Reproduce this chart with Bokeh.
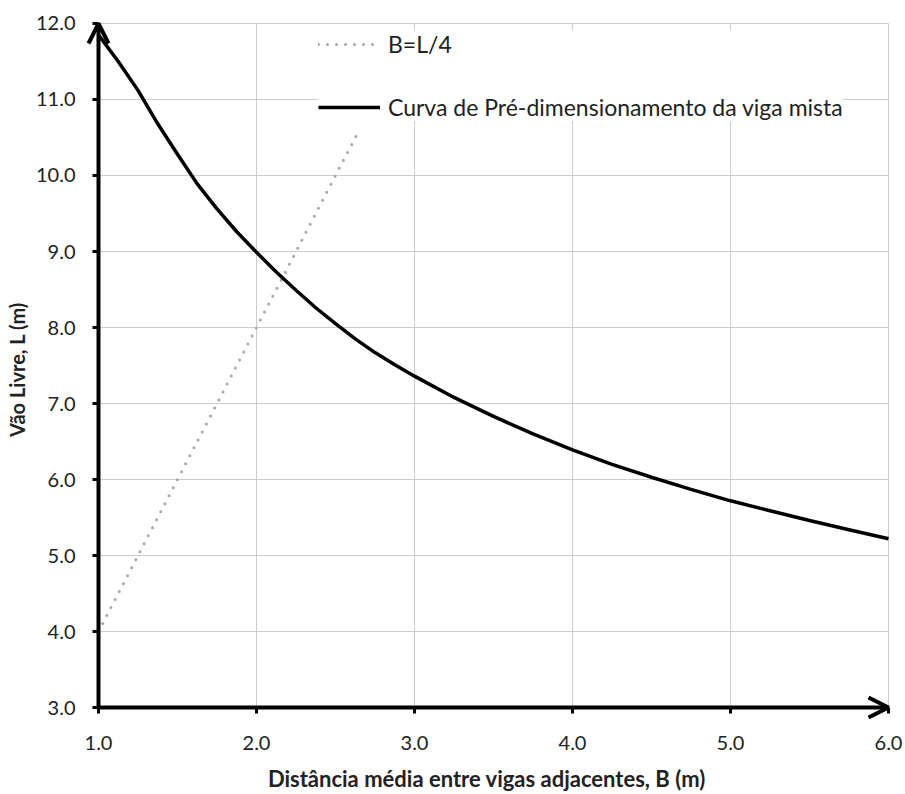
from bokeh.plotting import figure
from bokeh.models import (Arrow, OpenHead, Range1d, Legend, LegendItem,
                          FixedTicker, NumeralTickFormatter)
from bokeh.embed import file_html
from bokeh.resources import INLINE

# Data
B_curve = [1.0, 1.125, 1.25, 1.375, 1.5, 1.625, 1.75, 1.875, 2.0, 2.125, 2.25, 2.375,
           2.5, 2.625, 2.75, 2.875, 3.0, 3.25, 3.5, 3.75, 4.0, 4.25, 4.5, 4.75,
           5.0, 5.25, 5.5, 5.75, 6.0]
L_curve = [11.85, 11.5, 11.12, 10.68, 10.28, 9.89, 9.56, 9.26, 8.99, 8.73, 8.49, 8.26,
           8.05, 7.85, 7.67, 7.51, 7.36, 7.08, 6.83, 6.60, 6.39, 6.20, 6.03, 5.87,
           5.72, 5.59, 5.46, 5.34, 5.22]

B_line = [1.0, 2.64]
L_line = [4.0, 10.56]

x_ticks = [1.0, 2.0, 3.0, 4.0, 5.0, 6.0]
y_ticks = [3.0, 4.0, 5.0, 6.0, 7.0, 8.0, 9.0, 10.0, 11.0, 12.0]

X_MIN, X_MAX = 1.0, 6.0
Y_MIN, Y_MAX = 3.0, 12.0

FONT = "Lato"
TXT = "#222222"

# pixel scale and padding (so the axis arrows are not clipped)
PX_X = 158.0          # px per unit on x
PX_Y = 76.33          # px per unit on y
PAD_L, PAD_R, PAD_B, PAD_T = 12, 4, 12, 4

p = figure(width=905, height=794, output_backend="svg", toolbar_location=None,
           x_range=Range1d(X_MIN - PAD_L / PX_X, X_MAX + PAD_R / PX_X),
           y_range=Range1d(Y_MIN - PAD_B / PX_Y, Y_MAX + PAD_T / PX_Y),
           min_border_left=86, min_border_right=13, min_border_top=19,
           min_border_bottom=72)
p.outline_line_color = None
p.background_fill_color = "white"
p.border_fill_color = "white"
p.grid.visible = False

# grid lines drawn from the tick arrays, bounded to the data area
p.segment(x0=x_ticks[1:], y0=[Y_MIN] * 5, x1=x_ticks[1:], y1=[Y_MAX] * 5,
          line_color="#CCCCCC", line_width=1)
p.segment(x0=[X_MIN] * 9, y0=y_ticks[1:], x1=[X_MAX] * 9, y1=y_ticks[1:],
          line_color="#CCCCCC", line_width=1)

# axes (ticks shifted onto the arrow lines)
for ax, pad in ((p.xaxis[0], PAD_B), (p.yaxis[0], PAD_L)):
    ax.axis_line_color = None
    ax.major_tick_in = pad
    ax.major_tick_out = -(pad - 6)
    ax.minor_tick_in = 0
    ax.minor_tick_out = -(pad - 6)
    ax.major_tick_line_width = 3
    ax.major_tick_line_color = "black"
    ax.minor_tick_line_color = None
    ax.major_label_text_font = FONT
    ax.major_label_text_font_size = "20px"
    ax.major_label_text_color = TXT
    ax.formatter = NumeralTickFormatter(format="0.0")
    ax.axis_label_text_font = FONT
    ax.axis_label_text_font_style = "bold"
    ax.axis_label_text_color = TXT

p.xaxis[0].ticker = FixedTicker(ticks=x_ticks)
p.yaxis[0].ticker = FixedTicker(ticks=y_ticks)
p.xaxis[0].major_label_standoff = 16
p.yaxis[0].major_label_standoff = 11
p.xaxis[0].axis_label = "Distância  média entre vigas adjacentes, B (m)"
p.yaxis[0].axis_label = "Vão Livre, L (m)"
p.xaxis[0].axis_label_text_font_size = "22px"
p.yaxis[0].axis_label_text_font_size = "20px"
p.xaxis[0].axis_label_standoff = 12
p.yaxis[0].axis_label_standoff = 4

# series
r_dot = p.line(B_line, L_line, line_color="#A6A6A6", line_width=3,
               line_dash="0 9", line_cap="round")
r_curve = p.line(B_curve, L_curve, line_color="black", line_width=3.5)

# axis arrows
p.add_layout(Arrow(end=OpenHead(size=20, line_width=4, line_color="black"),
                   x_start=X_MIN, y_start=Y_MIN, x_end=X_MIN, y_end=Y_MAX,
                   line_width=4, line_color="black"))
p.add_layout(Arrow(end=OpenHead(size=20, line_width=4, line_color="black"),
                   x_start=X_MIN, y_start=Y_MIN, x_end=X_MAX, y_end=Y_MIN,
                   line_width=4, line_color="black"))

legend = Legend(items=[LegendItem(label="B=L/4", renderers=[r_dot]),
                       LegendItem(label="Curva de Pré-dimensionamento da viga mista",
                                  renderers=[r_curve])],
                location=(232, 598), orientation="vertical",
                glyph_width=62, glyph_height=24, label_height=24,
                label_standoff=8, spacing=35, padding=10, margin=0,
                border_line_color=None, background_fill_color="white",
                background_fill_alpha=1.0,
                label_text_font=FONT, label_text_font_size="23px",
                label_text_color=TXT)
p.add_layout(legend, "center")

open("out.html", "w").write(file_html(p, INLINE))
